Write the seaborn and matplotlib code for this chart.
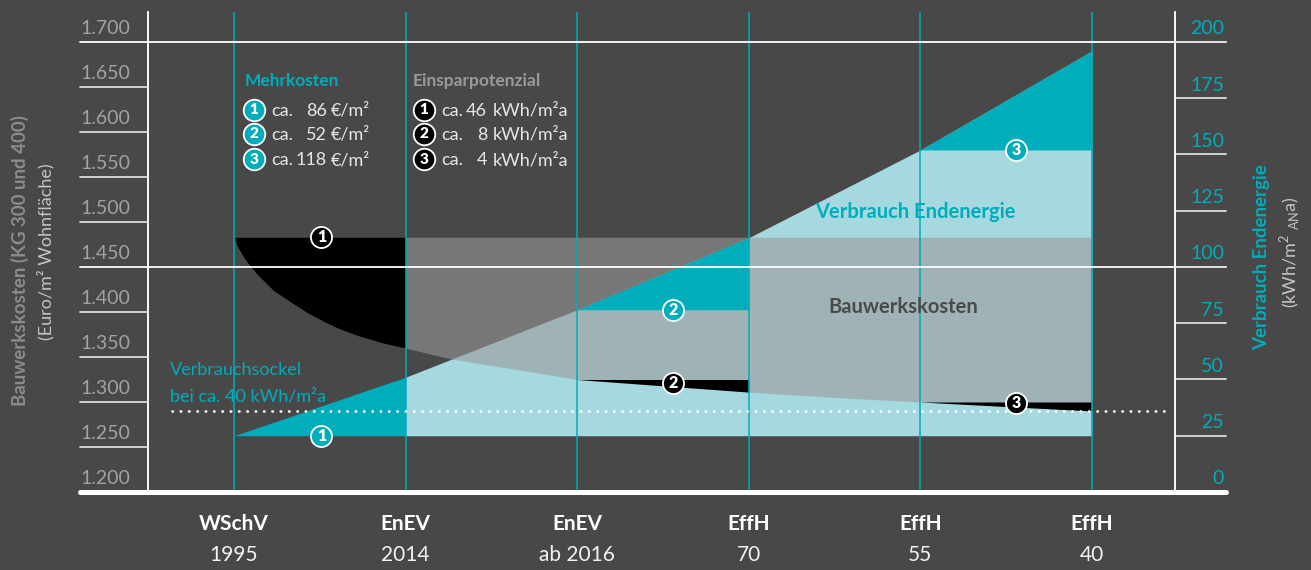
import numpy as np
import pandas as pd
import seaborn as sns
import matplotlib.pyplot as plt
import matplotlib.transforms as mtransforms

# categories on the x axis
standards = ["WSchV", "EnEV", "EnEV", "EffH", "EffH", "EffH"]
years = ["1995", "2014", "ab 2016", "70", "55", "40"]
pos = np.arange(len(standards))

# end energy (kWh/m2a, right axis) at each standard
energy = [25, 51, 81, 113, 152, 196]
energy_base = 25
sockel = 36

# building costs (Euro/m2, left axis), read at extra points where the curve bends
cost_x = [0, 0.02, 0.05, 0.09, 0.14, 0.23, 0.34, 0.43, 0.53, 0.62, 0.72, 0.86, 1.0,
          1.26, 1.55, 2.0, 2.5, 3.0, 3.5, 4.0, 4.5, 5.0]
cost = [1483, 1473, 1463, 1452, 1441, 1424, 1410, 1399, 1389, 1381, 1374, 1366, 1360,
        1348, 1339, 1325, 1318, 1311, 1305, 1300, 1295, 1290]
cost_top = 1483

left_ticks = [1200, 1250, 1300, 1350, 1400, 1450, 1500, 1550, 1600, 1650, 1700]
left_labels = ["1.200", "1.250", "1.300", "1.350", "1.400", "1.450",
               "1.500", "1.550", "1.600", "1.650", "1.700"]
right_ticks = [0, 25, 50, 75, 100, 125, 150, 175, 200]

# numbered markers
teal_mark_x = [0.51, 2.56, 4.56]
teal_mark_y = [25, 81, 152]
black_mark_x = [0.51, 2.56, 4.56]
black_mark_y = [1483, 1321, 1299]
mark_nums = ["1", "2", "3"]

mehrkosten = ["86", "52", "118"]
einsparung = ["46", "8", "4"]

bg = "#484848"
teal = "#00adbb"
light_blue = "#a6d8df"
grey_txt = "#9a9a9a"

sns.set_style("dark", {"axes.facecolor": bg, "figure.facecolor": bg})
plt.rcParams["font.family"] = ["Lato", "DejaVu Sans"]

fig = plt.figure(figsize=(13.11, 5.7), dpi=100)
ax = fig.add_axes([148 / 1311, 78 / 570, 1027 / 1311, 480 / 570])
ax2 = ax.twinx()
pix = mtransforms.Affine2D().scale(0.01, -0.01).translate(0, 5.7) + fig.dpi_scale_trans
e_tr = ax2.transData

# energy areas
ax.fill_between(pos[1:], energy_base, energy[1:], color=light_blue, lw=0, transform=e_tr, zorder=1)
ax.fill_between(pos[0:2], energy_base, energy[0:2], color=teal, lw=0, transform=e_tr, zorder=3)
ax.fill_between(pos[2:4], energy[2], energy[2:4], color=teal, lw=0, transform=e_tr, zorder=3)
ax.fill_between(pos[4:6], energy[4], energy[4:6], color=teal, lw=0, transform=e_tr, zorder=3)

# cost areas
cx = np.array(cost_x)
cv = np.array(cost)
m = cx >= 1
ax.fill_between(cx[m], cv[m], cost_top, color=(154 / 255, 154 / 255, 154 / 255), alpha=0.585, lw=0, zorder=2)
m = cx <= 1
ax.fill_between(cx[m], cv[m], cost_top, color="black", lw=0, zorder=4)
m = (cx >= 2) & (cx <= 3)
ax.fill_between(cx[m], cv[m], cv[m][0], color="black", lw=0, zorder=4)
m = (cx >= 4) & (cx <= 5)
ax.fill_between(cx[m], cv[m], cv[m][0], color="black", lw=0, zorder=4)

# grid lines
for p in pos:
    ax.axvline(p, color=teal, lw=1.1, zorder=5)

lt = mtransforms.blended_transform_factory(ax.transAxes, ax.transData)
rt = mtransforms.blended_transform_factory(ax.transAxes, ax2.transData)
for t in left_ticks:
    if t in (1450, 1700):
        ax.plot([-0.0662, 1.0497], [t, t], color="white", lw=1.3, transform=lt, clip_on=False, zorder=6)
    elif t > 1200:
        ax.plot([-0.0662, 0], [t, t], color="#dddddd", lw=1.3, transform=lt, clip_on=False, zorder=6)
for t in right_ticks:
    if t > 0:
        ax.plot([1, 1.0497], [t, t], color="#dddddd", lw=1.3, transform=rt, clip_on=False, zorder=6)
ax.plot([-0.0662, 1.0497], [1200, 1200], color="white", lw=3.6, transform=lt, clip_on=False, zorder=7)

ltxt = mtransforms.offset_copy(lt, fig=fig, y=5.5, units="points")
rtxt = mtransforms.offset_copy(rt, fig=fig, y=5.5, units="points")
for t, lab in zip(left_ticks, left_labels):
    ax.text(-0.0662, t, lab, transform=ltxt, ha="left", va="baseline", fontsize=14,
            color="#a2a2a2")
for t in right_ticks:
    ax.text(1.0477, t, str(t), transform=rtxt, ha="right", va="baseline", fontsize=14,
            color=teal)

# dotted base consumption line
ax2.axhline(sockel, xmin=0.0234, xmax=0.997, color="white", lw=2,
            linestyle=(0, (0.1, 2.9)), dash_capstyle="round", zorder=5)

# numbered markers
sns.scatterplot(x=teal_mark_x, y=teal_mark_y, ax=ax2, s=230, color=teal, edgecolor="white",
                linewidth=1.3, zorder=10, legend=False)
sns.scatterplot(x=black_mark_x, y=black_mark_y, ax=ax2, s=230, color="black", edgecolor="white",
                linewidth=1.3, zorder=10, legend=False, transform=ax.transData)
for x, y, n in zip(teal_mark_x, teal_mark_y, mark_nums):
    ax2.text(x, y, n, ha="center", va="center", fontsize=11.5, fontweight="heavy", color="white", zorder=11)
for x, y, n in zip(black_mark_x, black_mark_y, mark_nums):
    ax2.text(x, y, n, ha="center", va="center", fontsize=11.5, fontweight="heavy", color="white",
             zorder=11, transform=ax.transData)

for a in (ax, ax2):
    a.set_xlim(-0.501, 5.484)
    a.set_xticks([])
    a.set_yticks([])
    a.grid(False)
    for s in ("top", "bottom"):
        a.spines[s].set_visible(False)
    for s in ("left", "right"):
        a.spines[s].set_color("white")
        a.spines[s].set_linewidth(1.1)
ax.set_ylim(1200, 1733.3)
ax2.set_ylim(0, 213.3)

# x labels
xl = mtransforms.blended_transform_factory(ax.transData, ax.transAxes)
for p, s, yr in zip(pos, standards, years):
    ax.text(p, -0.045, s, transform=xl, ha="center", va="top", fontsize=15,
            fontweight="bold", color="white")
    ax.text(p, -0.11, yr, transform=xl, ha="center", va="top", fontsize=15, color="#f2f2f2")

# legend block
fig.text(245, 81, "Mehrkosten", transform=pix, fontsize=12.5, fontweight="bold", color=teal, va="center")
fig.text(413, 81, "Einsparpotenzial", transform=pix, fontsize=12.5, fontweight="bold", color=grey_txt, va="center")
rows_y = [110, 134, 159]
for i, y in enumerate(rows_y):
    ax2.plot([254], [y], "o", ms=15.5, mfc=teal, mec="white", mew=1.3, transform=pix, clip_on=False)
    ax2.plot([424], [y], "o", ms=15.5, mfc="black", mec="white", mew=1.3, transform=pix, clip_on=False)
    for cxp in (254, 424):
        fig.text(cxp, y, mark_nums[i], transform=pix, ha="center", va="center", fontsize=11,
                 fontweight="heavy", color="white", zorder=20)
    fig.text(271, y + 6, "ca.", transform=pix, fontsize=13, color="#e6e6e6", va="baseline")
    fig.text(327, y + 6, mehrkosten[i], transform=pix, fontsize=13, color="#e6e6e6", va="baseline", ha="right")
    fig.text(331, y + 6, "€/m²", transform=pix, fontsize=13, color="#e6e6e6", va="baseline")
    fig.text(441, y + 6, "ca.", transform=pix, fontsize=13, color="#e6e6e6", va="baseline")
    fig.text(487, y + 6, einsparung[i], transform=pix, fontsize=13, color="#e6e6e6", va="baseline", ha="right")
    fig.text(493, y + 6, "kWh/m²a", transform=pix, fontsize=13, color="#e6e6e6", va="baseline")

ax.text(3.97, 1511, "Verbrauch Endenergie", ha="center", va="center", fontsize=14.5,
        fontweight="bold", color=teal, zorder=8)
ax.text(3.9, 1405, "Bauwerkskosten", ha="center", va="center", fontsize=14.5,
        fontweight="bold", color="#4a4a4a", zorder=8)
fig.text(170, 370, "Verbrauchsockel", transform=pix, fontsize=13, color=teal, va="center")
fig.text(170, 396, "bei ca. 40 kWh/m²a", transform=pix, fontsize=13, color=teal, va="center")

# axis titles
fig.text(20, 260, "Bauwerkskosten (KG 300 und 400)", transform=pix, rotation=90, ha="center",
         va="center", fontsize=13.5, fontweight="bold", color="#8c8c8c")
fig.text(46, 252, "(Euro/m² Wohnfläche)", transform=pix, rotation=90, ha="center",
         va="center", fontsize=13, color="#c4c4c4")
fig.text(1262, 257, "Verbrauch Endenergie", transform=pix, rotation=90, ha="center",
         va="center", fontsize=13.5, fontweight="bold", color=teal)
fig.text(1290, 252, r"(kWh/m$^{\mathregular{2}}$ $_{\mathregular{AN}}$a)", transform=pix, rotation=90,
         ha="center", va="center", fontsize=13, color="#c4c4c4")

fig.savefig("out.png", dpi=100, facecolor=bg)
